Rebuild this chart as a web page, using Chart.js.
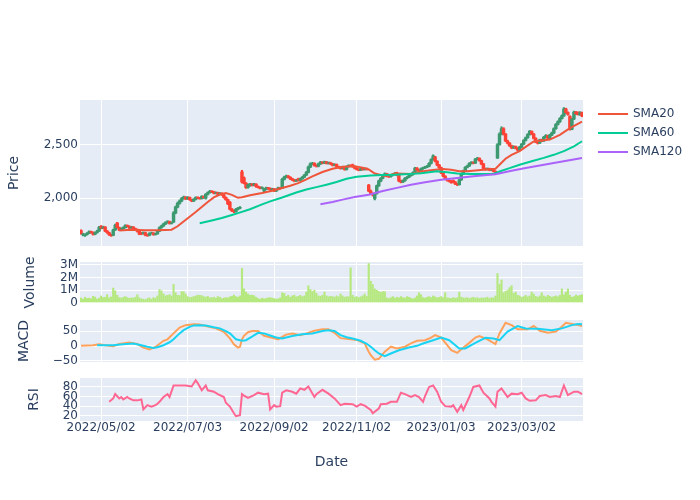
<!DOCTYPE html>
<html>
<head>
<meta charset="utf-8">
<script src="https://cdn.jsdelivr.net/npm/chart.js@4.4.1/dist/chart.umd.min.js"></script>
<style>
  body { margin: 0; background: #fff; }
  #wrap { position: relative; width: 700px; height: 500px; overflow: hidden; }
  #wrap canvas { position: absolute; left: 0; }
</style>
</head>
<body>
<div id="wrap">
  <canvas id="price" width="700" height="166" style="top:90px"></canvas>
  <canvas id="volume" width="700" height="61" style="top:252px"></canvas>
  <canvas id="macd" width="700" height="62" style="top:310px"></canvas>
  <canvas id="rsi" width="700" height="132" style="top:368px"></canvas>
</div>
<script>
const FONT = "DejaVu Sans";
const INK = "#2a3f5f";
const PLOT_BG = "#E5ECF6";
const UP = "#3D9970";
const DOWN = "#FF4136";

// daily candles, one entry per trading day
const opens = [
  1695,1655,1648,1658,1670,1684,1678,1660,1676,1690,
  1732,1718,1728,1690,1675,1655,1650,1700,1765,1722,
  1700,1712,1722,1742,1735,1720,1728,1712,1705,1688,
  1670,1665,1675,1652,1650,1668,1672,1658,1664,1688,
  1722,1738,1756,1770,1778,1762,1775,1860,1915,1950,
  1972,1995,2008,1992,2006,1985,1972,1988,2005,2000,
  1995,2015,1998,2035,2050,2062,2058,2045,2050,2038,
  2045,2030,2005,1985,1960,1895,1880,1872,1895,1905,
  2245,2190,2140,2098,2118,2130,2120,2130,2108,2100,
  2092,2065,2082,2095,2090,2078,2085,2066,2080,2095,
  2090,2175,2195,2205,2195,2180,2170,2160,2180,2165,
  2180,2195,2215,2240,2290,2320,2325,2305,2298,2320,
  2335,2328,2338,2325,2330,2320,2308,2315,2295,2285,
  2278,2290,2268,2295,2305,2310,2295,2280,2270,2262,
  2272,2268,2276,2120,2065,2040,1995,2040,2115,2160,
  2185,2215,2228,2205,2200,2215,2222,2235,2215,2160,
  2150,2162,2185,2195,2210,2220,2238,2280,2262,2255,
  2275,2282,2290,2298,2325,2360,2385,2345,2310,2285,
  2235,2205,2180,2165,2158,2165,2150,2132,2125,2170,
  2225,2255,2288,2300,2325,2335,2328,2365,2372,2350,
  2320,2275,2268,2275,2262,2268,2250,2375,2500,2600,
  2650,2600,2535,2515,2490,2470,2482,2468,2450,2478,
  2505,2540,2565,2595,2625,2600,2560,2525,2515,2545,
  2535,2570,2585,2560,2590,2610,2650,2690,2715,2745,
  2770,2835,2800,2765,2645,2740,2805,2800,2780,2800
];
const highs = [
  1702,1670,1664,1676,1692,1690,1683,1682,1698,1735,
  1742,1736,1732,1696,1680,1660,1708,1755,1772,1728,
  1720,1730,1750,1748,1740,1735,1732,1718,1710,1692,
  1678,1682,1680,1658,1675,1680,1676,1670,1694,1730,
  1746,1764,1778,1788,1784,1776,1872,1925,1962,1982,
  2005,2018,2014,2014,2010,1990,1995,2012,2012,2006,
  2022,2020,2042,2058,2072,2070,2064,2058,2055,2052,
  2050,2035,2010,1990,1968,1902,1888,1902,1912,1920,
  2260,2198,2145,2132,2138,2136,2138,2135,2114,2106,
  2105,2090,2102,2100,2096,2092,2090,2086,2102,2100,
  2185,2205,2215,2212,2200,2186,2176,2175,2186,2188,
  2202,2222,2250,2300,2330,2335,2332,2312,2328,2344,
  2342,2346,2344,2338,2336,2326,2322,2320,2300,2292,
  2298,2295,2302,2312,2312,2318,2300,2286,2276,2280,
  2278,2284,2282,2128,2075,2048,2048,2122,2168,2192,
  2222,2236,2232,2212,2222,2230,2240,2242,2220,2168,
  2170,2192,2202,2218,2228,2246,2288,2286,2268,2282,
  2290,2298,2306,2332,2368,2405,2392,2350,2315,2290,
  2240,2210,2186,2172,2164,2170,2155,2138,2176,2232,
  2262,2295,2308,2332,2342,2340,2372,2382,2378,2355,
  2325,2282,2282,2280,2275,2272,2256,2510,2612,2668,
  2660,2606,2542,2520,2496,2490,2488,2474,2485,2512,
  2548,2572,2604,2634,2630,2606,2566,2532,2552,2552,
  2578,2594,2590,2598,2618,2658,2698,2724,2754,2780,
  2848,2842,2808,2772,2748,2815,2812,2808,2810,2806
];
const lows = [
  1660,1645,1640,1652,1665,1670,1652,1655,1670,1686,
  1710,1712,1684,1668,1648,1640,1646,1695,1716,1694,
  1695,1706,1718,1728,1712,1714,1706,1698,1680,1655,
  1656,1660,1645,1640,1645,1662,1650,1652,1660,1684,
  1716,1732,1750,1764,1755,1756,1770,1852,1908,1942,
  1965,1988,1985,1986,1978,1965,1966,1982,1992,1988,
  1990,1996,1990,2028,2045,2050,2038,2038,2030,2032,
  2024,1998,1978,1938,1888,1872,1862,1866,1888,1898,
  2140,2132,2090,2092,2110,2112,2114,2100,2094,2085,
  2086,2058,2076,2082,2070,2072,2060,2060,2075,2082,
  2088,2168,2188,2188,2172,2162,2152,2154,2158,2160,
  2175,2190,2210,2235,2284,2312,2298,2290,2292,2314,
  2320,2322,2318,2318,2312,2300,2302,2288,2278,2270,
  2272,2260,2262,2290,2294,2288,2272,2262,2255,2256,
  2260,2262,2262,2058,2032,2018,1982,2036,2108,2152,
  2180,2208,2198,2192,2195,2208,2216,2208,2152,2142,
  2144,2156,2178,2190,2204,2214,2232,2255,2248,2250,
  2268,2276,2284,2292,2318,2354,2338,2302,2278,2228,
  2198,2172,2158,2150,2138,2142,2125,2116,2120,2165,
  2220,2250,2282,2295,2318,2320,2322,2358,2344,2312,
  2268,2260,2262,2255,2256,2244,2238,2370,2495,2592,
  2590,2528,2506,2482,2462,2464,2460,2442,2445,2472,
  2500,2534,2560,2590,2592,2552,2518,2506,2510,2528,
  2530,2564,2552,2555,2584,2604,2644,2684,2708,2740,
  2765,2792,2776,2636,2640,2735,2782,2778,2774,2762
];
const closes = [
  1668,1662,1658,1670,1684,1678,1660,1676,1690,1725,
  1718,1728,1690,1675,1655,1648,1700,1745,1722,1700,
  1712,1722,1742,1735,1720,1728,1712,1705,1688,1662,
  1665,1675,1652,1648,1668,1672,1658,1664,1688,1722,
  1738,1756,1770,1778,1762,1768,1860,1915,1950,1972,
  1995,2008,1992,2006,1985,1972,1988,2005,2000,1995,
  2015,2003,2035,2050,2062,2058,2045,2050,2038,2045,
  2030,2005,1985,1945,1895,1880,1872,1895,1905,1912,
  2150,2140,2098,2125,2130,2120,2130,2108,2100,2092,
  2098,2082,2095,2090,2078,2085,2066,2080,2095,2090,
  2175,2195,2205,2195,2180,2170,2160,2168,2165,2180,
  2195,2215,2240,2290,2320,2325,2305,2298,2320,2335,
  2328,2338,2325,2330,2320,2308,2315,2295,2285,2278,
  2290,2268,2295,2305,2300,2295,2280,2270,2262,2272,
  2268,2276,2270,2065,2040,2030,2040,2115,2160,2185,
  2215,2228,2205,2200,2215,2222,2232,2215,2160,2150,
  2162,2185,2195,2210,2220,2238,2280,2262,2255,2275,
  2282,2290,2298,2325,2360,2395,2345,2310,2285,2235,
  2205,2180,2165,2158,2145,2150,2132,2125,2170,2225,
  2255,2288,2300,2325,2335,2328,2365,2372,2350,2320,
  2275,2268,2275,2262,2268,2250,2245,2500,2600,2650,
  2600,2535,2515,2490,2470,2482,2468,2450,2478,2505,
  2540,2565,2595,2625,2600,2560,2525,2515,2545,2535,
  2570,2585,2560,2590,2610,2650,2690,2715,2745,2770,
  2835,2800,2785,2645,2740,2805,2790,2785,2800,2770
];
const volumes = [
  400000,300000,450000,360000,380000,340000,520000,460000,300000,380000,
  550000,420000,450000,650000,400000,480000,1170000,950000,600000,420000,
  380000,450000,500000,420000,360000,400000,380000,450000,650000,400000,
  320000,300000,250000,350000,400000,300000,420000,380000,550000,1050000,
  950000,700000,550000,600000,650000,550000,1450000,800000,600000,580000,
  900000,880000,700000,500000,420000,450000,500000,550000,620000,600000,
  580000,500000,450000,520000,400000,420000,450000,380000,500000,450000,
  350000,380000,420000,400000,480000,520000,620000,500000,450000,550000,
  2700000,1100000,850000,700000,600000,620000,580000,450000,350000,300000,
  380000,320000,360000,400000,420000,380000,350000,300000,320000,400000,
  800000,750000,520000,600000,450000,550000,620000,480000,520000,600000,
  500000,550000,850000,1350000,1050000,900000,1000000,750000,550000,520000,
  600000,850000,550000,480000,520000,500000,450000,550000,480000,700000,
  550000,450000,500000,480000,2740000,600000,450000,500000,420000,480000,
  550000,700000,520000,3080000,1700000,1450000,1100000,1000000,900000,820000,
  900000,880000,400000,350000,420000,500000,380000,450000,400000,500000,
  420000,380000,500000,450000,380000,320000,400000,550000,800000,650000,
  420000,380000,450000,500000,420000,550000,480000,400000,450000,500000,
  420000,800000,400000,380000,350000,420000,380000,400000,850000,450000,
  400000,380000,420000,350000,400000,450000,380000,420000,350000,400000,
  380000,400000,450000,350000,420000,400000,550000,2300000,1450000,1800000,
  800000,900000,1000000,1200000,1350000,750000,850000,600000,550000,450000,
  500000,600000,480000,550000,850000,700000,520000,450000,550000,800000,
  550000,480000,600000,520000,450000,500000,550000,480000,600000,1100000,
  650000,850000,1100000,600000,450000,500000,620000,550000,600000,650000
];

// moving averages, read at the day index where each value sits
const sma20Idx = [19,25,32,38,45,48,51,54,57,60,63,66,69,72,75,78,80,84,90,95,100,104,108,112,115,120,125,130,136,140,143,146,149,152,156,160,164,169,173,176,180,184,188,192,196,200,204,206,208,211,214,218,221,225,229,233,238,243,249];
const sma20 = [1695,1703,1698,1697,1703,1735,1780,1825,1868,1915,1963,2005,2033,2047,2030,2002,2008,2025,2047,2068,2094,2115,2140,2175,2203,2244,2275,2292,2298,2285,2268,2230,2215,2205,2230,2228,2226,2248,2258,2264,2272,2264,2252,2252,2258,2264,2272,2275,2312,2368,2405,2440,2480,2530,2540,2548,2592,2656,2717];
const sma60Idx = [59,65,70,75,78,84,90,94,100,107,112,117,122,127,132,137,144,150,156,163,169,177,182,187,194,200,205,208,213,218,224,230,235,240,245,249];
const sma60 = [1764,1790,1812,1840,1858,1895,1940,1968,2005,2052,2080,2102,2125,2150,2180,2200,2212,2216,2219,2225,2233,2250,2242,2230,2226,2224,2225,2248,2280,2312,2345,2376,2405,2440,2485,2532];
const sma120Idx = [119,125,130,136,143,150,157,164,171,179,187,195,206,214,221,228,235,242,249];
const sma120 = [1942,1962,1985,2010,2031,2065,2095,2125,2148,2172,2188,2203,2222,2255,2281,2305,2328,2352,2376];

// MACD line and its signal line
const macdIdx = [0,3,6,9,12,16,19,24,28,31,34,37,41,43,46,49,52,56,59,62,67,71,74,76,78,79,80,81,83,85,88,91,95,98,100,102,105,109,112,116,120,123,126,129,133,137,141,143,144,146,148,151,154,157,161,164,167,171,174,176,179,182,184,187,189,193,196,198,202,206,208,211,214,217,222,225,228,232,236,238,241,244,247,249];
const macdVals = [0,1,2,5,2,-1,6,11,6,-6,-12,-4,17,22,42,62,70,73,72,67,59,47,25,5,-6,-3,22,34,46,50,50,34,27,22,30,38,42,36,42,51,56,56,44,26,23,20,8,-20,-32,-47,-44,-20,-3,-9,-3,8,17,19,28,36,28,2,-15,-24,-12,10,28,33,22,6,42,78,70,56,56,67,51,44,48,59,78,74,70,67];
const signalIdx = [8,12,16,21,26,30,33,36,38,41,44,46,49,51,54,56,59,62,66,69,72,74,77,80,82,85,88,91,94,97,100,105,110,115,120,123,126,129,132,135,139,142,144,146,148,151,154,158,163,167,170,175,179,183,188,191,196,201,205,208,212,217,221,227,234,239,244,247,249];
const signalVals = [2,2,2,5,8,2,-3,-7,-5,2,12,22,42,53,64,69,70,69,63,59,50,42,22,17,19,31,44,42,35,28,25,33,39,42,50,53,50,36,29,25,17,7,-3,-15,-26,-35,-26,-15,-6,0,8,19,28,19,-9,-9,10,27,25,19,48,67,59,58,53,59,70,74,73];

// RSI
const rsiIdx = [14,16,17,19,20,21,23,24,26,28,30,31,33,35,37,38,39,41,43,44,46,49,52,55,57,58,60,62,63,66,68,71,72,74,76,77,79,80,81,83,86,88,91,93,94,96,97,99,100,102,105,107,109,111,113,116,117,120,123,126,129,131,135,137,139,141,144,145,148,149,152,154,157,159,161,164,166,168,170,171,173,175,177,179,181,184,185,187,189,190,193,195,198,200,203,204,206,207,209,212,214,217,219,221,223,226,228,231,233,236,238,240,242,245,247,249];
const rsiVals = [49,56,65,56,59,54,59,56,52,52,54,33,42,39,42,45,49,59,65,59,83,83,83,81,94,88,73,83,73,70,65,59,47,39,25,19,21,65,62,57,63,68,65,66,33,42,39,40,68,73,70,66,77,74,81,59,65,74,66,56,42,45,44,39,44,41,32,25,35,44,45,49,49,68,65,59,63,59,49,61,80,83,70,49,40,39,42,28,42,32,59,80,83,68,56,49,39,70,77,59,66,65,68,56,51,52,61,63,59,61,59,83,63,70,70,65];

// date ticks (day index -> label)
const xTickIdx = [10, 53, 96, 137, 179, 219];
const xTickLabels = ["2022/05/02", "2022/07/03", "2022/09/02", "2022/11/02", "2023/01/03", "2023/03/02"];

//pairs up an index list with a value list for the line datasets
function pts(idx, vals) {
  return idx.map((x, k) => ({ x: x, y: vals[k] }));
}

//paints the blue-grey plot background before the grid goes on
const plotBg = {
  id: "plotBg",
  beforeDraw(chart) {
    const { ctx, chartArea: a } = chart;
    ctx.save();
    ctx.fillStyle = PLOT_BG;
    ctx.fillRect(a.left, a.top, a.right - a.left, a.bottom - a.top);
    ctx.restore();
  }
};

//legend to the right of the price panel, only for the moving averages
const sideLegend = {
  id: "sideLegend",
  afterDraw(chart) {
    const ctx = chart.ctx;
    ctx.save();
    ctx.font = "12px " + FONT;
    ctx.textBaseline = "middle";
    chart.data.datasets.filter(d => d.inLegend).forEach((d, k) => {
      const y = 24 + k * 19;
      ctx.strokeStyle = d.borderColor;
      ctx.lineWidth = 2;
      ctx.beginPath();
      ctx.moveTo(598, y);
      ctx.lineTo(628, y);
      ctx.stroke();
      ctx.fillStyle = INK;
      ctx.fillText(d.label, 633, y);
    });
    ctx.restore();
  }
};

function panelOptions(yMin, yMax, yTicks, fmt, title, titlePad, showX) {
  return {
    responsive: false,
    animation: false,
    devicePixelRatio: 1,
    layout: { padding: { left: 0, right: 117, top: 10, bottom: showX ? 0 : 10 } },
    plugins: { legend: { display: false }, tooltip: { enabled: false } },
    scales: {
      x: {
        type: "linear",
        min: -0.5,
        max: closes.length - 0.5,
        offset: false,
        afterBuildTicks: s => { s.ticks = xTickIdx.map(v => ({ value: v })); },
        afterFit: s => { s.height = showX ? 79 : 0; },
        grid: { color: "#ffffff", lineWidth: 1, drawTicks: false, offset: false },
        border: { display: false },
        ticks: {
          display: showX, padding: 0, color: INK, autoSkip: false,
          maxRotation: 0, minRotation: 0,
          font: { family: FONT, size: 12 },
          callback: v => xTickLabels[xTickIdx.indexOf(v)]
        },
        title: {
          display: showX, text: "Date", color: INK,
          font: { family: FONT, size: 14 }, padding: { top: 0, bottom: 29 }
        }
      },
      y: {
        min: yMin,
        max: yMax,
        afterBuildTicks: s => { s.ticks = yTicks.map(v => ({ value: v })); },
        afterFit: s => { s.width = 80; },
        grid: {
          color: "#ffffff", drawTicks: false,
          lineWidth: c => (c.tick && c.tick.value === 0) ? 2 : 1
        },
        border: { display: false },
        ticks: { padding: 2, autoSkip: false, color: INK, font: { family: FONT, size: 12 }, callback: fmt },
        title: {
          display: true, text: title, color: INK,
          font: { family: FONT, size: 14 }, padding: { top: titlePad, bottom: 0 }
        }
      }
    }
  };
}

// PRICE panel : candles as floating bars (wick + body) with the SMAs on top
const candleColours = closes.map((c, i) => c >= opens[i] ? UP : DOWN);
const wickData = closes.map((c, i) => ({ x: i, y: [lows[i], highs[i]] }));
const bodyData = closes.map((c, i) => ({ x: i, y: [Math.min(opens[i], c), Math.max(opens[i], c)] }));

new Chart(document.getElementById("price"), {
  type: "bar",
  data: {
    datasets: [
      { type: "bar", data: wickData, backgroundColor: candleColours, barThickness: 1.5, grouped: false, order: 6 },
      { type: "bar", data: bodyData, backgroundColor: candleColours, barThickness: 2.8, grouped: false, order: 5 },
      { type: "line", label: "SMA20", inLegend: true, data: pts(sma20Idx, sma20), borderColor: "#EF553B", borderWidth: 2, pointRadius: 0, order: 3 },
      { type: "line", label: "SMA60", inLegend: true, data: pts(sma60Idx, sma60), borderColor: "#00CC96", borderWidth: 2, pointRadius: 0, order: 2 },
      { type: "line", label: "SMA120", inLegend: true, data: pts(sma120Idx, sma120), borderColor: "#AB63FA", borderWidth: 2, pointRadius: 0, order: 1 }
    ]
  },
  options: panelOptions(1550, 2919, [2000, 2500], v => v.toLocaleString("en-US"), "Price", 5.8, false),
  plugins: [plotBg, sideLegend]
});

// VOLUME panel
new Chart(document.getElementById("volume"), {
  type: "bar",
  data: {
    datasets: [{
      data: volumes.map((v, i) => ({ x: i, y: v })),
      backgroundColor: "#B6E880",
      barThickness: 1.5
    }]
  },
  options: panelOptions(0, 3200000, [0, 1000000, 2000000, 3000000], v => v === 0 ? "0" : (v / 1e6) + "M", "Volume", 22.4, false),
  plugins: [plotBg]
});

// MACD panel
new Chart(document.getElementById("macd"), {
  type: "line",
  data: {
    datasets: [
      { data: pts(macdIdx, macdVals), borderColor: "#FFA15A", borderWidth: 2, pointRadius: 0, order: 2 },
      { data: pts(signalIdx, signalVals), borderColor: "#19D3F3", borderWidth: 2, pointRadius: 0, order: 1 }
    ]
  },
  options: panelOptions(-54.8, 87.4, [-50, 0, 50], v => String(v).replace("-", "\u2212"), "MACD", 15.8, false),
  plugins: [plotBg]
});

// RSI panel (carries the date axis)
new Chart(document.getElementById("rsi"), {
  type: "line",
  data: {
    datasets: [
      { data: pts(rsiIdx, rsiVals), borderColor: "#FF6692", borderWidth: 2, pointRadius: 0 }
    ]
  },
  options: panelOptions(9, 98.6, [20, 40, 60, 80], v => String(v), "RSI", 25.8, true),
  plugins: [plotBg]
});
</script>
</body>
</html>
